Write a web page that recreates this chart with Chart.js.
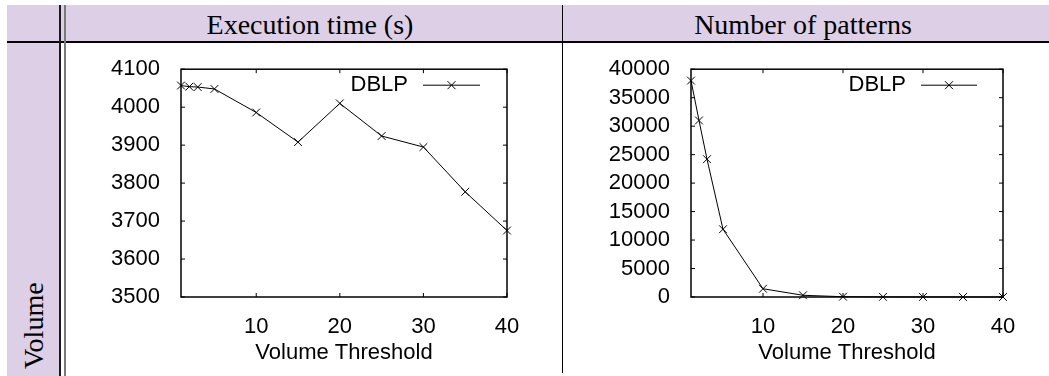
<!DOCTYPE html>
<html>
<head>
<meta charset="utf-8">
<script src="https://cdn.jsdelivr.net/npm/chart.js@4"></script>
<style>
    html, body { margin: 0; padding: 0; background: #fff; }
    #page { position: relative; width: 1049px; height: 376px; overflow: hidden; }
    .band { position: absolute; background: #dccfe6; }
    .rule { position: absolute; background: #000; }
    .head { position: absolute; top: 6px; height: 37px; line-height: 37px; text-align: center;
            font-family: 'Liberation Serif', 'Times New Roman', serif; font-size: 28px; color: #000; }
    #row-label { position: absolute; left: 0; top: 0; white-space: nowrap; line-height: 30px;
                 font-family: 'Liberation Serif', 'Times New Roman', serif; font-size: 28px;
                 transform-origin: top left; transform: translate(19px, 369px) rotate(-90deg); }
    canvas { position: absolute; }
</style>
</head>
<body>
<div id="page">
    <!-- table backgrounds + rules -->
    <div class="band" style="left:7px; top:5px; width:1042px; height:37px;"></div>
    <div class="band" style="left:7px; top:42px; width:53px; height:334px;"></div>
    <div class="rule" style="left:7px; top:41px; width:1042px; height:2px;"></div>
    <div class="rule" style="left:59px; top:5px; width:2px; height:371px; background:#1a1a1a;"></div>
    <div class="rule" style="left:64px; top:5px; width:2px; height:371px; background:#7a7a7a;"></div>
    <div class="rule" style="left:562px; top:5px; width:1px; height:368px;"></div>

    <div class="head" style="left:60px; width:500px;">Execution time (s)</div>
    <div class="head" style="left:563px; width:480px;">Number of patterns</div>
    <div id="row-label">Volume</div>

    <canvas id="chart-time" width="495" height="333" style="left:66px; top:43px; width:495px; height:333px;"></canvas>
    <canvas id="chart-patterns" width="486" height="333" style="left:563px; top:43px; width:486px; height:333px;"></canvas>
</div>

<script>
// ── Data ──────────────────────────────
const seriesName = 'DBLP';
const xTitle = 'Volume Threshold';
const thresholds = [1, 2, 3, 5, 10, 15, 20, 25, 30, 35, 40];
const execTime = [4057, 4054, 4053, 4048, 3986, 3908, 4010, 3924, 3895, 3777, 3675];
const patternCount = [38000, 31000, 24200, 11900, 1450, 300, 50, 20, 10, 5, 0];
const xTicks = [10, 20, 30, 40];
const timeTicks = [3500, 3600, 3700, 3800, 3900, 4000, 4100];
const patternTicks = [0, 5000, 10000, 15000, 20000, 25000, 30000, 35000, 40000];

const FONT = { family: "'Liberation Sans', Arial, sans-serif", size: 22 };

// ── gnuplot-like frame: box border + inward ticks on all four sides ──
const gnuFrame = {
    id: 'gnuFrame',
    beforeDatasetsDraw(chart) {
        const { ctx, chartArea: a, scales: { x, y } } = chart;
        ctx.save();
        ctx.strokeStyle = '#000';
        ctx.lineWidth = 1;
        ctx.beginPath();
        x.ticks.forEach(t => {
            const px = x.getPixelForValue(t.value);
            ctx.moveTo(px, a.bottom); ctx.lineTo(px, a.bottom - 4);
            ctx.moveTo(px, a.top); ctx.lineTo(px, a.top + 4);
        });
        y.ticks.forEach(t => {
            const py = y.getPixelForValue(t.value);
            ctx.moveTo(a.left, py); ctx.lineTo(a.left + 4, py);
            ctx.moveTo(a.right, py); ctx.lineTo(a.right - 4, py);
        });
        ctx.stroke();
        ctx.lineWidth = 1.5;
        ctx.strokeRect(a.left, a.top, a.right - a.left, a.bottom - a.top);
        ctx.restore();
    }
};

// ── key in the top right corner: text then line sample ──
const gnuKey = {
    id: 'gnuKey',
    afterDraw(chart, args, opts) {
        const { ctx, chartArea: a } = chart;
        const ds = chart.data.datasets[0];
        const y = a.top + 16;
        ctx.save();
        ctx.font = `${FONT.size}px ${FONT.family}`;
        ctx.fillStyle = '#000';
        ctx.textAlign = 'right';
        ctx.textBaseline = 'middle';
        ctx.fillText(ds.label, a.right - opts.textGap, y);
        const x0 = a.right - opts.lineFrom, x1 = a.right - opts.lineTo;
        ctx.strokeStyle = '#000';
        ctx.lineWidth = 1;
        ctx.beginPath();
        ctx.moveTo(x0, y); ctx.lineTo(x1, y);
        const m = (x0 + x1) / 2, r = 4;
        ctx.moveTo(m - r, y - r); ctx.lineTo(m + r, y + r);
        ctx.moveTo(m - r, y + r); ctx.lineTo(m + r, y - r);
        ctx.stroke();
        ctx.restore();
    }
};

function makeChart(id, values, yTicks, box) {
    return new Chart(document.getElementById(id), {
        type: 'line',
        data: {
            datasets: [{
                label: seriesName,
                data: thresholds.map((t, i) => ({ x: t, y: values[i] })),
                borderColor: '#000',
                borderWidth: 1,
                pointStyle: 'crossRot',
                pointRadius: 5.5,
                pointBorderColor: '#000',
                pointBorderWidth: 1,
                tension: 0,
                clip: false
            }]
        },
        options: {
            responsive: false,
            animation: false,
            layout: { padding: { left: 0, top: box.top, right: box.right, bottom: 0 } },
            plugins: {
                legend: { display: false },
                tooltip: { enabled: false },
                gnuKey: box.key
            },
            scales: {
                x: {
                    type: 'linear',
                    min: thresholds[0],
                    max: thresholds[thresholds.length - 1],
                    afterBuildTicks: s => { s.ticks = xTicks.map(v => ({ value: v })); },
                    afterFit: s => { s.height = box.bottom; },
                    grid: { display: false },
                    border: { display: false },
                    ticks: { color: '#000', font: FONT, padding: 9, autoSkip: false, maxRotation: 0,
                             callback: v => String(v) },
                    title: { display: true, text: xTitle, color: '#000', font: FONT, padding: { top: 0, bottom: 10 } }
                },
                y: {
                    min: yTicks[0],
                    max: yTicks[yTicks.length - 1],
                    afterBuildTicks: s => { s.ticks = yTicks.map(v => ({ value: v })); },
                    afterFit: s => { s.width = box.left; },
                    grid: { display: false },
                    border: { display: false },
                    ticks: { color: '#000', font: FONT, padding: 13, autoSkip: false,
                             callback: v => String(v) }
                }
            }
        },
        plugins: [gnuFrame, gnuKey]
    });
}

// ── Init ──────────────────────────────
makeChart('chart-time', execTime, timeTicks,
    { left: 115, top: 26, right: 54, bottom: 79, key: { textGap: 99, lineFrom: 84, lineTo: 27 } });
makeChart('chart-patterns', patternCount, patternTicks,
    { left: 128, top: 26, right: 46, bottom: 79, key: { textGap: 97, lineFrom: 82, lineTo: 26 } });
</script>
</body>
</html>
